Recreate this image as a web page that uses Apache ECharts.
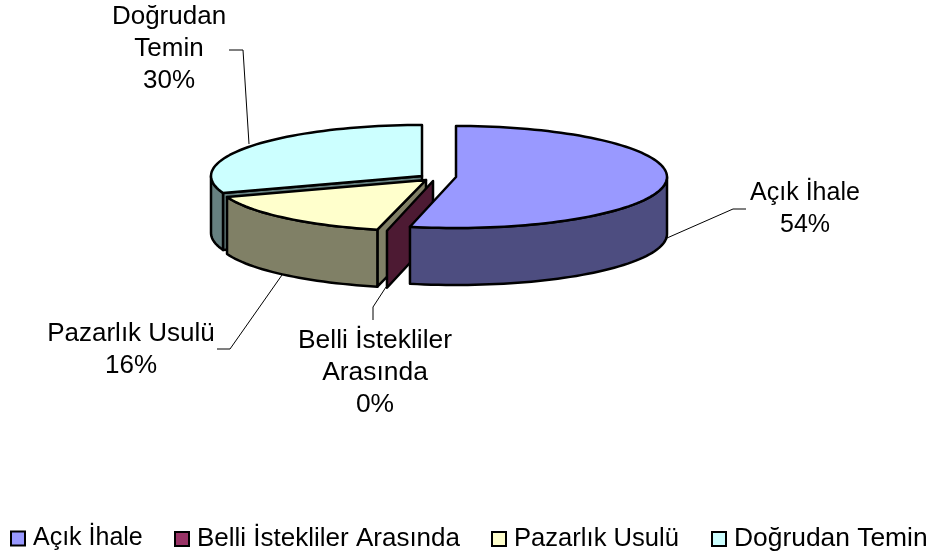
<!DOCTYPE html>
<html><head><meta charset="utf-8">
<style>html,body{margin:0;padding:0;background:#fff}#c{width:935px;height:555px}</style>
<script src="https://cdn.jsdelivr.net/npm/echarts@6/dist/echarts.min.js"></script>
</head><body><div id="c"></div>
<script>
const categories = ['Açık İhale', 'Belli İstekliler Arasında', 'Pazarlık Usulü', 'Doğrudan Temin'];
const values = [53.5, 0.2, 15.9, 30.4];
const topColors = ['#9999FF', '#993366', '#FFFFCC', '#CCFFFF'];
const wallColors = ['#4D4D80', '#4D1A33', '#808066', '#668080'];

const RX = 211, RY = 51, DEPTH = 57, FONT = '"Liberation Sans", Arial, sans-serif';
const centers = [[456, 177], [433, 181], [426, 180], [422, 176]];
const labelLines = [['Açık İhale'], ['Belli İstekliler', 'Arasında'], ['Pazarlık Usulü'], ['Doğrudan', 'Temin']];
const labelPos = [[805, 193], [375, 341], [131, 334], [169, 17]];
const labelFonts = [25, 26.4, 26, 26];
const legendLeft = [10, 174, 491, 711];
const legendFonts = [25, 26, 25.6, 26.4];
const leaders = [
  [[667, 238], [733, 209], [746, 209]],
  [[386, 287], [373, 307], [373, 320]],
  [[282, 275], [230, 349], [217, 349]],
  [[249, 144], [243, 50], [229, 50]]
];
const total = values.reduce((a, b) => a + b, 0);
const starts = [];
{ let s = 0; values.forEach(v => { starts.push(s); s += v / total * 360; }); }
const rad = d => d * Math.PI / 180;
const pt = (c, a, dy) => [c[0] + RX * Math.sin(rad(a)), c[1] - RY * Math.cos(rad(a)) + (dy || 0)];
function arc(c, a0, a1, dy) {
  const n = Math.max(2, Math.ceil(Math.abs(a1 - a0) / 2)), out = [];
  for (let i = 0; i <= n; i++) out.push(pt(c, a0 + (a1 - a0) * i / n, dy));
  return out;
}
const poly = (points, fill) => ({
  type: 'polygon', shape: { points },
  style: { fill, stroke: '#000', lineWidth: 2.5, lineJoin: 'round' }
});

function sliceRender(i) {
  return function () {
    const c = centers[i], a0 = starts[i], a1 = a0 + values[i] / total * 360;
    const kids = [], wall = wallColors[i], bottom = [c[0], c[1] + DEPTH];
    const sliver = values[i] / total < 0.01;
    // radial cut wall that faces the viewer
    if (i !== 0) kids.push(poly([c, pt(c, a0), pt(c, a0, DEPTH), bottom], wall));
    // outer curved wall on the front half of the rim
    const f0 = Math.max(a0, 90), f1 = Math.min(a1, 270);
    if (f1 > f0 && !sliver) kids.push(poly(arc(c, f0, f1).concat(arc(c, f1, f0, DEPTH)), wall));
    // top face (the sliver slice has no visible top)
    if (!sliver) kids.push(poly([c].concat(arc(c, a0, a1)), topColors[i]));
    return { type: 'group', children: kids };
  };
}

const series = categories.map((name, i) => ({
  type: 'custom', name, coordinateSystem: 'none',
  z: 2 + (categories.length - i),
  data: [values[i]],
  itemStyle: { color: topColors[i], borderColor: '#000', borderWidth: 2 },
  renderItem: sliceRender(i), silent: true, animation: false
}));

const graphic = [];
leaders.forEach(l => graphic.push({
  type: 'polyline', z: 1, shape: { points: l },
  style: { stroke: '#000', lineWidth: 1, fill: null }, silent: true
}));
categories.forEach((_, i) => {
  const lines = labelLines[i].concat([Math.round(values[i] / total * 100) + '%']);
  lines.forEach((t, j) => graphic.push({
    type: 'text', z: 10, x: labelPos[i][0], y: labelPos[i][1] + j * 32,
    style: { text: t, font: labelFonts[i] + 'px ' + FONT, fill: '#000', align: 'center', verticalAlign: 'middle' },
    silent: true
  }));
});

const legend = categories.map((name, i) => ({
  data: [{ name, icon: 'rect' }],
  left: legendLeft[i], top: 526, padding: 0, itemWidth: 14, itemHeight: 14,
  selectedMode: false,
  itemStyle: { borderColor: '#000', borderWidth: 2 },
  textStyle: { fontFamily: FONT, fontSize: legendFonts[i], color: '#000', padding: [0, 0, 0, 3] }
}));

const chart = echarts.init(document.getElementById('c'), null, { renderer: 'canvas' });
chart.setOption({ animation: false, backgroundColor: '#fff', legend, graphic, series });
</script></body></html>
